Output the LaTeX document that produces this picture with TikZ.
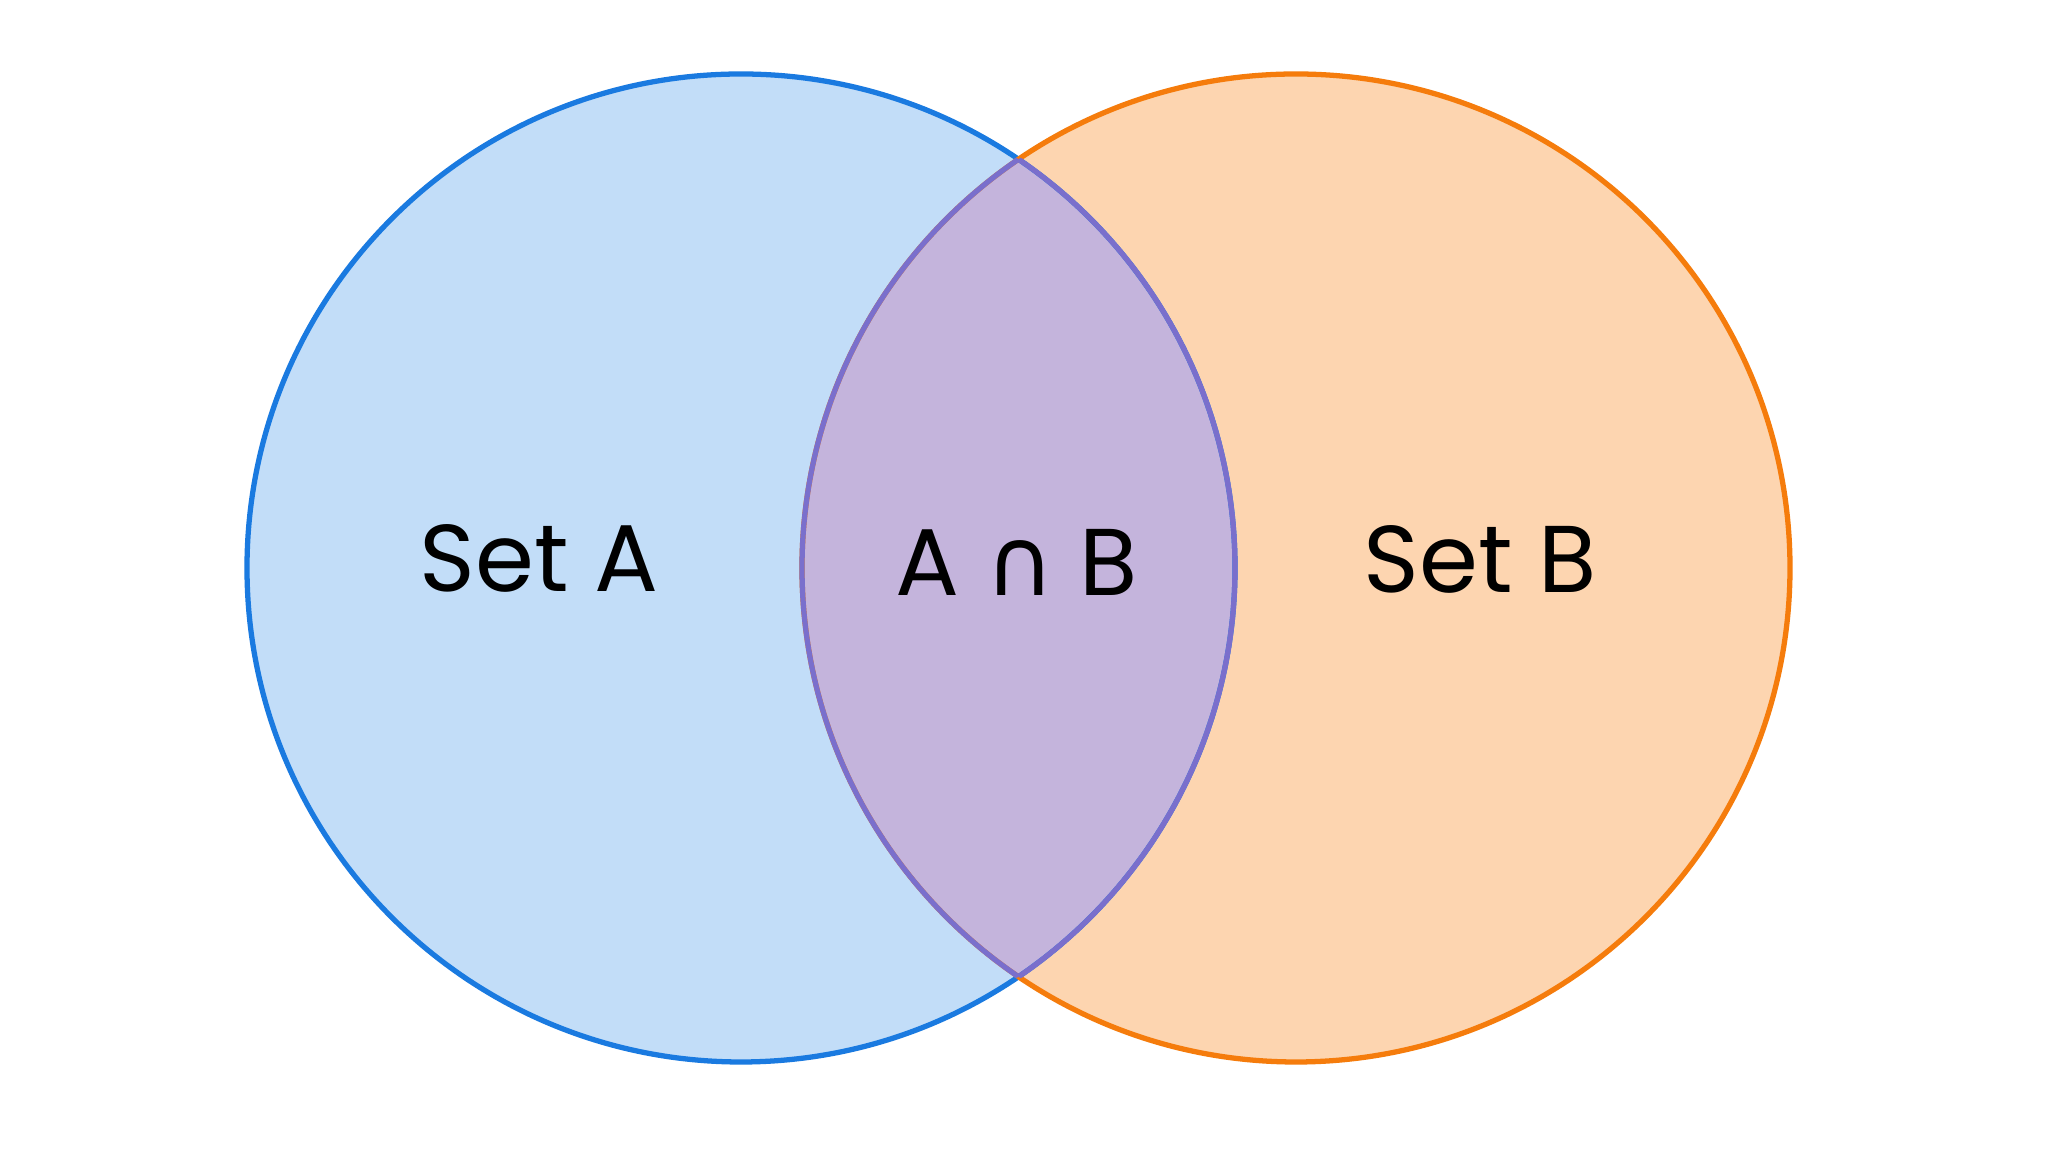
\documentclass[tikz,border=0pt]{standalone}
\usepackage{fontspec}
\setmainfont{Poppins}
\newfontfamily\symf{DejaVu Sans}
\definecolor{aS}{HTML}{1A7AE0}
\definecolor{aF}{HTML}{C2DDF8}
\definecolor{bS}{HTML}{F57C0C}
\definecolor{bF}{HTML}{FDD5B0}
\definecolor{iF}{HTML}{C4B4DC}
\definecolor{iS}{HTML}{7A6FCC}
\begin{document}
\begin{tikzpicture}
\tikzset{lbl/.style={font=\fontsize{27}{30}\selectfont, text=black}}
\useasboundingbox (0,0) rectangle (20.48,11.52);
\fill[white] (0,0) rectangle (20.48,11.52);
\coordinate (ca) at (7.41,5.84);
\coordinate (cb) at (12.96,5.84);
\def\r{4.94}
\fill[aF] (ca) circle (\r);
\fill[bF] (cb) circle (\r);
\begin{scope}
\clip (ca) circle (\r);
\fill[iF] (cb) circle (\r);
\end{scope}
\draw[aS, line width=1.5pt] (ca) circle (\r);
\draw[bS, line width=1.5pt] (cb) circle (\r);
\begin{scope}
\clip (ca) circle (\r);
\draw[iS, line width=1.5pt] (cb) circle (\r);
\end{scope}
\begin{scope}
\clip (cb) circle (\r);
\draw[iS, line width=1.5pt] (ca) circle (\r);
\end{scope}
\node[lbl] (la) at (5.39,5.94) {Set A};
\node[lbl] (li) at (10.17,5.90) {A {\symf ∩} B};
\node[lbl] (lb) at (14.80,5.93) {Set B};
\end{tikzpicture}
\end{document}
